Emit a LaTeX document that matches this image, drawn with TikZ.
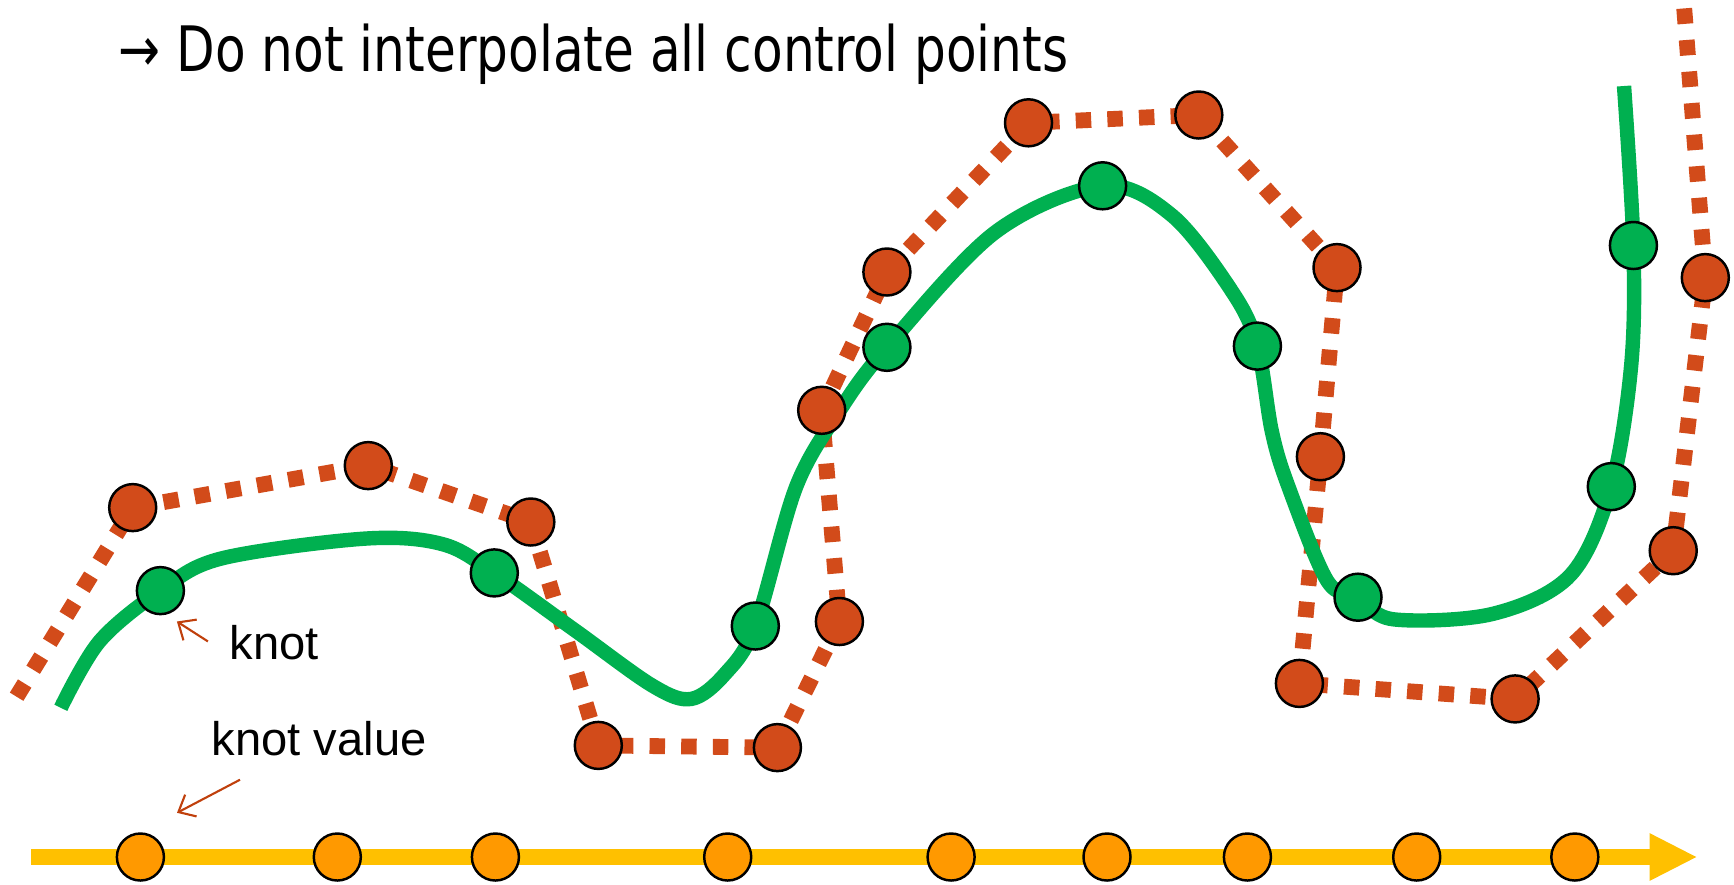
\documentclass[tikz,border=0pt]{standalone}
\usepackage{fontspec}
\setmainfont{Liberation Sans}
\newfontfamily\symfont{DejaVu Sans}
\usetikzlibrary{arrows.meta}
\definecolor{cred}{HTML}{D24B1A}
\definecolor{cgreen}{HTML}{00B050}
\definecolor{corange}{HTML}{FF9900}
\definecolor{caxis}{HTML}{FFC000}
\definecolor{carrow}{HTML}{C0400C}
\begin{document}
\begin{tikzpicture}[x=0.01cm,y=-0.01cm,
  reddots/.style={draw=cred,line width=4.5pt,dash pattern=on 4.4pt off 4.6pt,line cap=butt,line join=round},
  gcurve/.style={draw=cgreen,line width=4.1pt,line cap=butt},
  dotbase/.style={circle,draw=black,line width=0.7pt,minimum size=0.47cm,inner sep=0pt},
  rdot/.style={dotbase,fill=cred},
  gdot/.style={dotbase,fill=cgreen},
  odot/.style={dotbase,fill=corange},
  axisline/.style={draw=caxis,line width=4.55pt,-{Triangle[length=0.48cm,width=0.44cm]}},
  note/.style={draw=carrow,line width=0.6pt,-{Straight Barb[length=4pt,width=7pt]}},
  lbl/.style={inner sep=0pt,anchor=base west,font=\fontsize{13.4}{16}\selectfont}
]
\useasboundingbox (0,0) rectangle (1734,884);

% title
\node[inner sep=0pt,anchor=base west] (title) at (118,71)
  {\scalebox{1}[1.25]{\resizebox{9.49cm}{!}{\symfont → Do not interpolate all control points}}};

% control points
\coordinate (rs) at (16.6,696.7);
\coordinate (r1) at (132.7,507.6);
\coordinate (r2) at (368.3,465.6);
\coordinate (r3) at (530.8,522);
\coordinate (r4) at (598.3,745.4);
\coordinate (r5) at (777.4,747.6);
\coordinate (r6) at (839.4,621.5);
\coordinate (r7) at (821.7,410.3);
\coordinate (r8) at (886.9,272);
\coordinate (r9) at (1028.5,122.8);
\coordinate (r10) at (1198.8,115);
\coordinate (r11) at (1337,267.6);
\coordinate (r12) at (1320.4,456.7);
\coordinate (r13) at (1299.4,683.4);
\coordinate (r14) at (1515.1,698.9);
\coordinate (r15) at (1673.2,550.7);
\coordinate (r16) at (1705.3,277.6);
\coordinate (re) at (1684,6);

% knots
\coordinate (gs) at (60.8,707.8);
\coordinate (g1) at (160.4,590.6);
\coordinate (g2) at (494.3,572.9);
\coordinate (g3) at (755.3,626);
\coordinate (g4) at (886.9,347.3);
\coordinate (g5) at (1102.6,185.8);
\coordinate (g6) at (1257.4,346.1);
\coordinate (g7) at (1358,597.2);
\coordinate (g8) at (1611.3,486.6);
\coordinate (g9) at (1633.4,245.5);
\coordinate (ge) at (1624,86);

% axis
\coordinate (a0) at (31,857);
\coordinate (a1) at (1697.5,857);

\draw[reddots] (rs) -- (r1) -- (r2) -- (r3) -- (r4) -- (r5) -- (r6) -- (r7) -- (r8)
  -- (r9) -- (r10) -- (r11) -- (r12) -- (r13) -- (r14) -- (r15) -- (r16) -- (re);

\draw[gcurve] plot[smooth,tension=0.55] coordinates {
  (gs) (99.5,641.4) (g1) (221.2,558.5) (364.9,538.6) (442.4,544.1) (g2)
  (575.1,630.4) (652.5,685.7) (691.2,698.9) (724.4,674.6) (g3)
  (796.2,486.6) (840.5,409.2) (g4) (995.3,232.2) (g5)
  (1172.3,215.7) (1233.1,293.1) (g6) (1271.8,431.3) (1288.4,486.6) (1327.1,580.6) (g7)
  (1393.4,619.3) (1493,613.8) (1570.4,575.1) (g8) (1631.2,364.9) (g9) (ge)};

\draw[axisline] (a0) -- (a1);

\foreach \i in {1,...,16} \node[rdot] (R\i) at (r\i) {};
\foreach \i in {1,...,9} \node[gdot] (G\i) at (g\i) {};

\foreach \x [count=\i] in {140.4,337.3,495.4,727.7,951.1,1107,1247.4,1416.7,1574.8}
  \node[odot] (O\i) at (\x,857) {};

% labels
\node[lbl] (knot) at (229,659) {knot};
\node[lbl] (kval) at (211,755) {knot value};
\coordinate (n1a) at (207.9,641.4);
\coordinate (n1b) at (176.9,621.5);
\coordinate (n2a) at (240,779.7);
\coordinate (n2b) at (177,812.8);
\draw[note] (n1a) -- (n1b);
\draw[note] (n2a) -- (n2b);
\end{tikzpicture}
\end{document}
